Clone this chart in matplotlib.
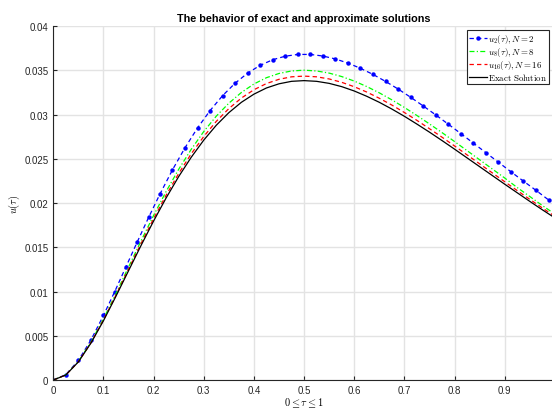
import numpy as np
import matplotlib
matplotlib.use('Agg')
import matplotlib.pyplot as plt

plt.rcParams['font.family'] = ['Liberation Sans', 'DejaVu Sans']
plt.rcParams['mathtext.fontset'] = 'cm'

# tau grid of the solution curves
tau = np.linspace(0, 1, 41)

# exact solution u(tau), in units of 1e-3
u_exact = np.array([0, 0.57, 2.05, 4.17, 6.70, 9.48, 12.35, 15.21, 17.97, 20.58,
                    22.99, 25.17, 27.11, 28.79, 30.21, 31.38, 32.30, 33.00, 33.47, 33.75,
                    33.83, 33.75, 33.52, 33.15, 32.66, 32.06, 31.38, 30.62, 29.80, 28.92,
                    28.01, 27.06, 26.09, 25.10, 24.11, 23.12, 22.13, 21.16, 20.19, 19.24,
                    18.32]) * 1e-3

# N = 16 approximation
u16 = np.array([0, 0.57, 2.07, 4.21, 6.78, 9.60, 12.52, 15.43, 18.24, 20.89,
                23.34, 25.56, 27.52, 29.23, 30.67, 31.86, 32.80, 33.50, 33.98, 34.26,
                34.34, 34.26, 34.02, 33.64, 33.14, 32.54, 31.84, 31.07, 30.23, 29.34,
                28.40, 27.44, 26.45, 25.44, 24.43, 23.42, 22.41, 21.41, 20.42, 19.45,
                18.50]) * 1e-3

# N = 8 approximation
u8 = np.array([0, 0.58, 2.10, 4.29, 6.91, 9.78, 12.76, 15.73, 18.60, 21.31,
               23.81, 26.07, 28.08, 29.82, 31.28, 32.49, 33.45, 34.16, 34.64, 34.92,
               35.01, 34.92, 34.68, 34.29, 33.78, 33.16, 32.45, 31.66, 30.80, 29.89,
               28.94, 27.96, 26.95, 25.92, 24.89, 23.86, 22.83, 21.75, 20.74, 19.72,
               18.76]) * 1e-3

# N = 2 approximation (own grid, drawn with markers)
tau2 = np.array([0, 0.025, 0.05, 0.075, 0.1, 0.1225, 0.145, 0.1675, 0.19, 0.2125,
                 0.2375, 0.2625, 0.2875, 0.3125, 0.3375, 0.3625, 0.3875, 0.4125, 0.4375, 0.4625,
                 0.4875, 0.5125, 0.5375, 0.5625, 0.5875, 0.6125, 0.6375, 0.6625, 0.6875, 0.7125,
                 0.7375, 0.7625, 0.7875, 0.8125, 0.8375, 0.8625, 0.8875, 0.9125, 0.9375, 0.9625,
                 0.9875])
u2 = np.array([0, 0.61, 2.22, 4.52, 7.29, 10.00, 12.81, 15.62, 18.37, 21.00,
               23.74, 26.24, 28.48, 30.44, 32.13, 33.54, 34.68, 35.56, 36.19, 36.59,
               36.79, 36.79, 36.61, 36.28, 35.81, 35.22, 34.53, 33.74, 32.88, 31.95,
               30.97, 29.96, 28.91, 27.85, 26.77, 25.69, 24.61, 23.53, 22.47, 21.43,
               20.35]) * 1e-3

xticks = np.arange(0, 1.0, 0.1)
yticks = np.arange(0, 0.0401, 0.005)
ytick_labels = ['0', '0.005', '0.01', '0.015', '0.02', '0.025', '0.03', '0.035', '0.04']

fig = plt.figure(figsize=(5.52, 4.10), dpi=100)
ax = fig.add_axes([0.0966, 0.0707, 0.9085, 0.8634])

ax.plot(tau2, u2, color='#0000ff', ls=(0, (3.5, 2.5)), marker='o', markersize=3.2,
        markeredgewidth=0, lw=0.9, label=r'$u_2(\tau), N=2$')
ax.plot(tau, u8, color='#00ff00', ls=(0, (4, 1.8, 1, 1.8)), lw=0.9,
        label=r'$u_8(\tau), N=8$')
ax.plot(tau, u16, color='#ff0000', ls=(0, (3.5, 2.5)), lw=0.9,
        label=r'$u_{16}(\tau), N=16$')
ax.plot(tau, u_exact, '-', color='black', lw=0.9, label=r'$\mathrm{Exact\ Solution}$')

ax.set_xlim(0, 1)
ax.set_ylim(0, 0.04)
ax.set_xticks(xticks)
ax.set_xticklabels(['0'] + ['%.1f' % t for t in xticks[1:]])
ax.set_yticks(yticks)
ax.set_yticklabels(ytick_labels)
ax.grid(True, color='#e3e3e3', lw=1)
ax.set_axisbelow(True)
ax.tick_params(direction='in', length=3, labelsize=7, colors='#262626', width=0.8)
for s in ['top', 'right']:
    ax.spines[s].set_visible(False)
for s in ['left', 'bottom']:
    ax.spines[s].set_color('#262626')
    ax.spines[s].set_linewidth(0.8)

ax.set_title('The behavior of exact and approximate solutions', fontsize=7.8,
             fontweight='bold', pad=3.5)
ax.set_xlabel(r'$0 \leq \tau \leq 1$', fontsize=7.5)
ax.xaxis.set_label_coords(0.5, -0.044)
ax.set_ylabel(r'$u(\tau)$', fontsize=7.5)
ax.yaxis.set_label_coords(-0.062, 0.5)

leg = ax.legend(loc='upper right', bbox_to_anchor=(549 / 552, 1 - 31 / 410),
                bbox_transform=fig.transFigure, fontsize=6.4, fancybox=False,
                framealpha=1, edgecolor='#262626', borderpad=0.2, labelspacing=0.0,
                handlelength=2.1, handletextpad=0.1, borderaxespad=0)
leg.get_frame().set_linewidth(0.8)

plt.savefig('out.png', dpi=100)
